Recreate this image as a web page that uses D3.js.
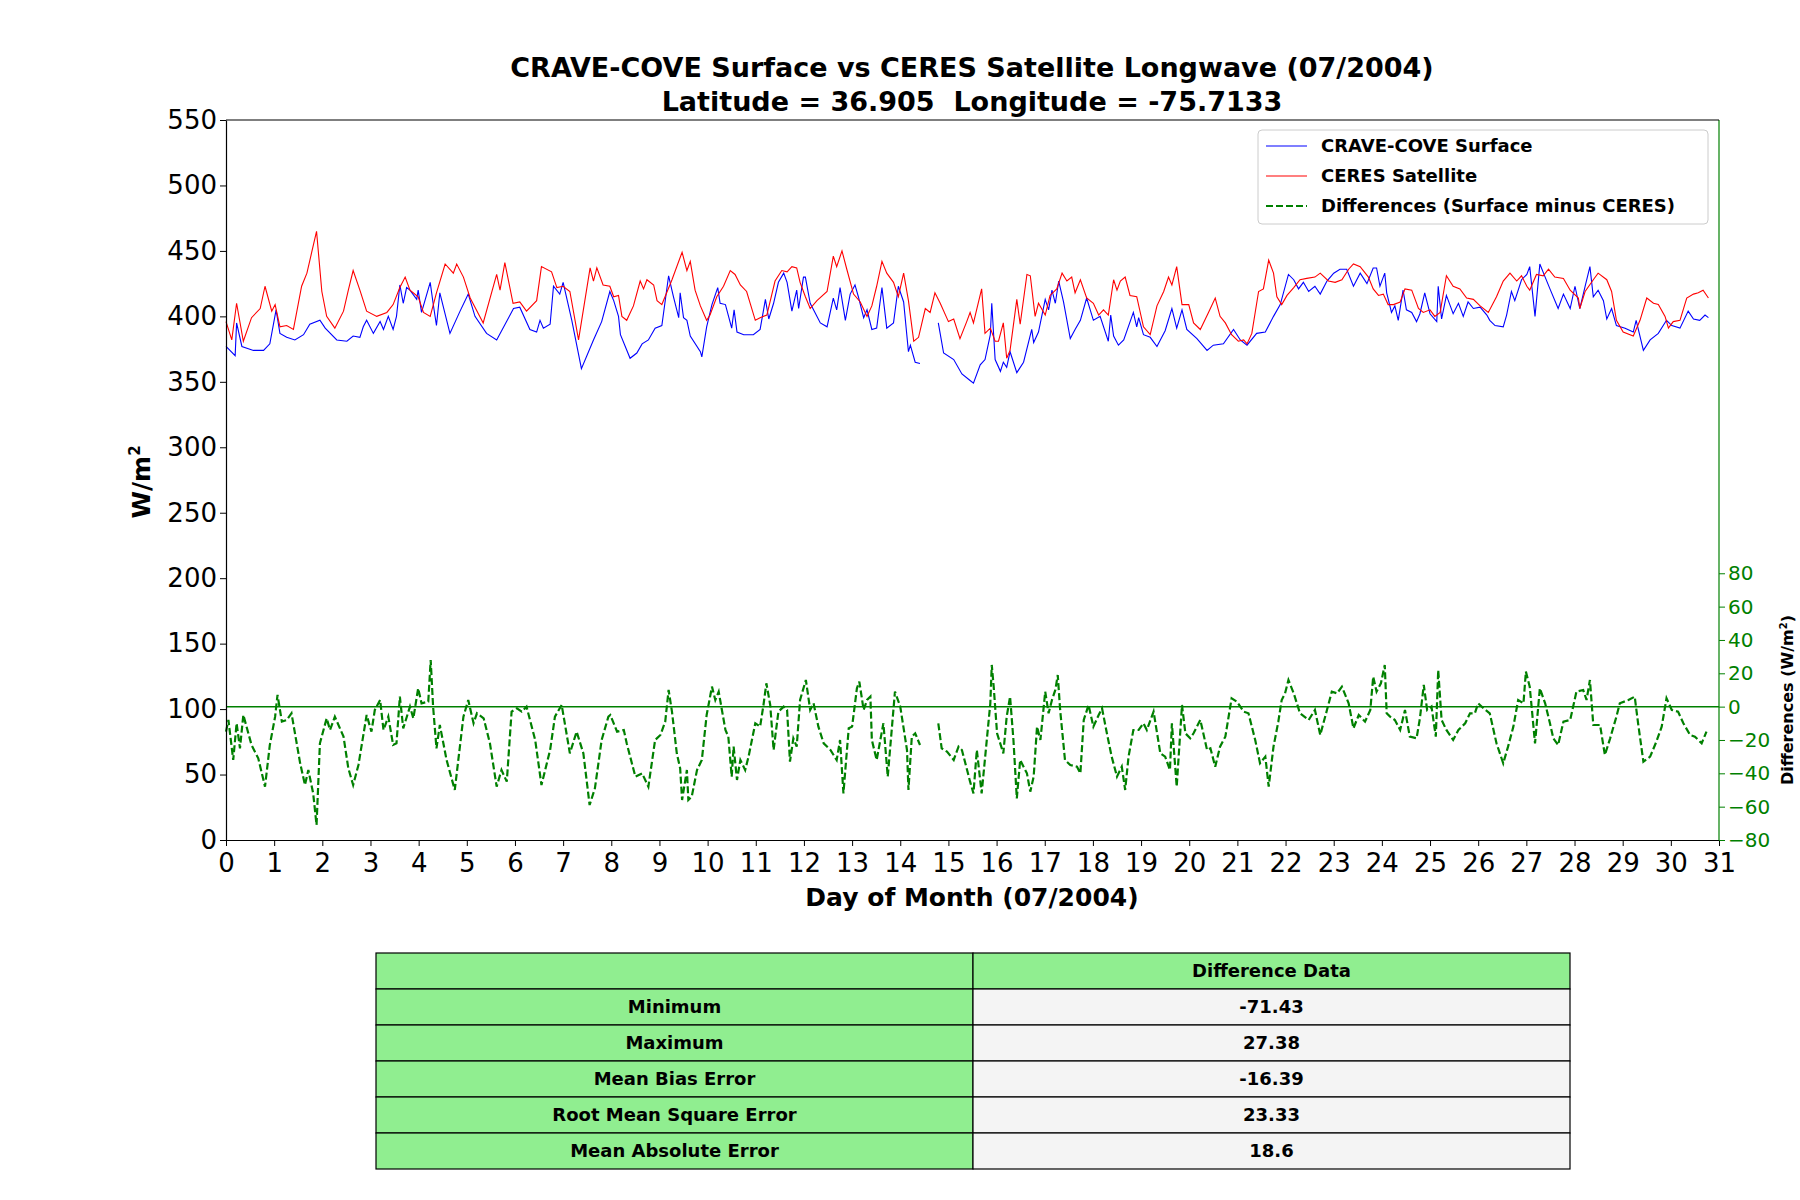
<!DOCTYPE html>
<html><head><meta charset="utf-8">
<script src="https://cdn.jsdelivr.net/npm/d3@7"></script>
<style>body{margin:0;background:#fff}text{font-family:"DejaVu Sans",sans-serif}</style>
</head><body><svg id="c" width="1800" height="1200"></svg>
<script>
const surfDays=[0.00,0.19,0.22,0.33,0.57,0.78,0.91,1.04,1.12,1.26,1.43,1.61,1.74,1.95,2.06,2.30,2.51,2.64,2.78,2.85,2.92,3.06,3.20,3.27,3.37,3.47,3.54,3.61,3.68,3.75,3.82,3.96,3.99,4.06,4.24,4.30,4.37,4.44,4.65,4.86,5.03,5.17,5.41,5.62,5.97,6.10,6.31,6.45,6.52,6.59,6.73,6.80,6.93,7.00,7.18,7.38,7.63,7.80,7.97,8.05,8.15,8.19,8.39,8.53,8.64,8.77,8.91,9.05,9.19,9.29,9.40,9.43,9.50,9.57,9.64,9.85,9.88,9.98,10.09,10.21,10.26,10.37,10.50,10.55,10.61,10.75,10.95,11.09,11.20,11.27,11.37,11.47,11.58,11.65,11.75,11.85,11.89,11.99,12.03,12.13,12.34,12.48,12.61,12.68,12.75,12.86,12.96,13.06,13.13,13.24,13.31,13.41,13.51,13.62,13.72,13.86,13.96,14.07,14.17,14.21,14.31,14.41,14.6,14.79,14.90,15.11,15.28,15.45,15.52,15.66,15.76,15.87,15.90,15.97,16.08,16.14,16.21,16.28,16.42,16.56,16.73,16.77,16.87,17.01,17.08,17.15,17.22,17.29,17.39,17.53,17.63,17.74,17.87,18.01,18.15,18.32,18.37,18.43,18.53,18.64,18.84,18.91,18.95,19.05,19.19,19.33,19.50,19.64,19.74,19.85,19.95,20.16,20.37,20.50,20.71,20.92,21.06,21.20,21.40,21.58,21.75,21.89,22.06,22.17,22.27,22.37,22.48,22.61,22.72,22.86,23.00,23.13,23.27,23.41,23.55,23.69,23.82,23.89,23.96,24.06,24.10,24.20,24.27,24.34,24.44,24.51,24.62,24.72,24.79,24.89,25.00,25.14,25.17,25.24,25.34,25.48,25.59,25.69,25.79,25.90,26.04,26.18,26.24,26.35,26.52,26.59,26.69,26.76,26.90,27.01,27.07,27.18,27.28,27.39,27.49,27.66,27.77,27.91,28.01,28.11,28.22,28.32,28.39,28.49,28.60,28.67,28.77,28.87,29.05,29.22,29.28,29.43,29.57,29.74,29.91,30.02,30.19,30.36,30.47,30.60,30.71,30.78];
const surfVals=[377,370,395,377,374,374,379,405,387,384,382,386,394,397,391,382,381,385,384,392,397,387,396,390,400,390,400,424,410,422,420,413,420,403,426,410,393,418,387,404,417,400,387,382,406,407,390,388,397,391,394,423,417,426,397,360,382,396,419,412,400,386,368,372,379,382,391,393,431,415,399,418,399,397,385,373,369,392,409,422,410,409,391,405,388,386,386,390,413,398,410,426,433,426,404,420,406,430,430,410,395,392,414,405,422,397,417,424,415,399,405,390,391,422,391,395,423,411,373,378,365,364,null,395,372,367,356,351,349,363,367,386,410,367,358,365,361,373,357,365,390,380,388,413,405,420,410,427,411,383,390,397,414,397,400,381,401,385,378,382,403,392,399,386,384,377,389,406,391,405,390,383,374,378,379,390,382,378,387,388,400,409,432,428,421,426,419,423,417,427,433,436,436,423,433,425,437,437,423,433,418,403,408,397,420,405,403,396,402,418,402,396,423,398,416,402,410,400,411,406,407,401,397,393,392,401,419,412,428,432,438,400,440,430,421,406,417,406,423,406,423,438,415,420,412,398,406,393,391,388,397,374,382,387,397,393,391,404,398,397,401,399];
const ceresDays=[0.00,0.12,0.22,0.36,0.53,0.71,0.81,0.95,1.02,1.12,1.26,1.40,1.57,1.68,1.78,1.88,1.99,2.09,2.26,2.44,2.54,2.64,2.78,2.92,3.13,3.34,3.47,3.61,3.72,3.82,3.99,4.10,4.24,4.37,4.55,4.72,4.79,4.93,5.07,5.34,5.62,5.69,5.79,5.96,6.10,6.24,6.45,6.55,6.76,6.87,7.00,7.14,7.32,7.56,7.63,7.70,7.83,7.97,8.05,8.15,8.22,8.32,8.46,8.60,8.67,8.74,8.88,8.95,9.05,9.15,9.26,9.47,9.57,9.64,9.74,9.85,9.98,10.05,10.19,10.33,10.47,10.57,10.68,10.81,10.99,11.09,11.23,11.40,11.54,11.65,11.75,11.85,11.92,12.03,12.13,12.27,12.48,12.61,12.68,12.79,12.89,13.03,13.17,13.31,13.41,13.51,13.62,13.72,13.86,13.96,14.07,14.17,14.28,14.38,14.52,14.62,14.72,14.83,15.00,15.11,15.24,15.38,15.45,15.52,15.69,15.76,15.87,15.97,16.04,16.14,16.21,16.28,16.42,16.49,16.63,16.70,16.80,16.87,17.01,17.11,17.25,17.36,17.46,17.56,17.63,17.74,17.87,18.01,18.12,18.22,18.32,18.43,18.50,18.57,18.67,18.77,18.91,19.05,19.19,19.33,19.47,19.57,19.64,19.74,19.85,19.99,20.09,20.23,20.40,20.54,20.64,20.75,20.88,21.02,21.13,21.20,21.30,21.44,21.54,21.65,21.75,21.82,21.92,22.03,22.17,22.30,22.44,22.61,22.72,22.89,23.03,23.17,23.31,23.41,23.55,23.72,23.82,23.93,24.03,24.13,24.24,24.38,24.48,24.62,24.76,24.86,25.00,25.10,25.21,25.34,25.48,25.62,25.76,25.90,26.04,26.21,26.38,26.52,26.66,26.80,26.90,27.01,27.07,27.21,27.35,27.46,27.59,27.77,27.91,28.08,28.11,28.22,28.39,28.49,28.67,28.77,28.87,29.01,29.22,29.36,29.50,29.64,29.74,29.88,29.95,30.05,30.19,30.33,30.47,30.57,30.67,30.78];
const ceresVals=[396,382,410,381,399,406,423,404,409,392,393,390,423,433,449,465,419,400,391,404,420,435,420,404,400,403,409,422,430,420,415,403,400,418,440,433,440,430,414,395,432,420,441,410,411,404,412,438,434,422,423,419,382,437,427,437,424,423,415,416,400,397,408,427,421,428,424,412,409,418,428,449,435,442,420,408,397,401,415,423,435,432,424,419,397,399,401,427,435,434,438,437,426,415,406,412,419,446,438,450,436,417,411,400,408,423,442,433,426,415,433,412,381,384,406,403,418,410,396,398,383,396,403,395,421,387,391,381,381,395,368,374,413,394,432,431,400,410,401,416,421,433,427,430,418,428,414,410,401,405,401,428,420,427,430,416,415,392,386,408,419,430,424,438,409,409,395,390,403,414,400,395,386,381,382,379,387,419,421,443,433,415,409,416,422,428,429,430,433,427,426,428,436,440,438,430,421,416,417,409,409,411,421,420,406,403,405,400,403,431,423,421,414,413,408,403,415,427,433,427,431,423,420,432,431,436,430,429,420,414,406,419,428,433,428,419,397,388,385,397,414,410,409,400,391,396,397,414,417,418,420,414];
const diffDays=[0.00,0.05,0.15,0.22,0.29,0.36,0.53,0.67,0.81,0.91,1.02,1.07,1.16,1.26,1.36,1.54,1.64,1.71,1.81,1.88,1.95,2.09,2.16,2.26,2.44,2.54,2.64,2.75,2.92,3.02,3.09,3.20,3.27,3.37,3.47,3.54,3.61,3.68,3.82,3.89,3.99,4.06,4.20,4.25,4.30,4.37,4.44,4.58,4.75,4.93,5.03,5.14,5.21,5.35,5.48,5.62,5.72,5.83,5.93,6.04,6.14,6.24,6.42,6.55,6.73,6.83,6.97,7.14,7.28,7.42,7.55,7.66,7.80,7.94,7.98,8.12,8.26,8.32,8.50,8.64,8.77,8.91,9.02,9.12,9.19,9.26,9.36,9.43,9.47,9.57,9.60,9.67,9.78,9.88,9.98,10.09,10.16,10.23,10.37,10.43,10.50,10.54,10.61,10.68,10.78,10.85,10.99,11.09,11.16,11.22,11.30,11.37,11.47,11.58,11.65,11.71,11.78,11.85,11.92,12.04,12.13,12.20,12.30,12.41,12.55,12.68,12.75,12.82,12.93,13.00,13.10,13.15,13.24,13.31,13.38,13.41,13.51,13.65,13.74,13.89,14.00,14.14,14.17,14.24,14.31,14.41,14.6,14.79,14.86,14.97,15.11,15.21,15.28,15.45,15.52,15.59,15.69,15.80,15.87,15.90,15.94,16.01,16.14,16.21,16.28,16.35,16.42,16.49,16.56,16.63,16.70,16.77,16.84,16.91,17.01,17.08,17.15,17.22,17.27,17.32,17.42,17.53,17.67,17.74,17.81,17.91,18.01,18.12,18.19,18.29,18.39,18.50,18.60,18.67,18.74,18.84,18.95,19.05,19.12,19.26,19.40,19.50,19.60,19.64,19.74,19.85,19.92,20.02,20.09,20.23,20.37,20.44,20.54,20.64,20.75,20.88,20.99,21.13,21.23,21.37,21.47,21.58,21.65,21.75,21.85,21.92,21.99,22.06,22.17,22.30,22.48,22.61,22.72,22.86,22.96,23.07,23.17,23.31,23.41,23.52,23.65,23.76,23.82,23.89,23.98,24.06,24.10,24.17,24.27,24.38,24.48,24.58,24.72,24.79,24.87,24.94,25.03,25.12,25.17,25.24,25.34,25.48,25.59,25.73,25.83,25.93,26.00,26.11,26.24,26.38,26.52,26.62,26.73,26.83,26.94,26.99,27.07,27.18,27.28,27.39,27.49,27.56,27.66,27.77,27.91,28.04,28.18,28.25,28.32,28.39,28.53,28.63,28.74,28.87,28.94,29.12,29.25,29.32,29.43,29.57,29.70,29.81,29.91,30.02,30.15,30.26,30.40,30.50,30.64,30.74];
const diffVals=[-15,-8,-32,-10,-25,-5,-23,-31,-48,-23,-6,7,-9,-8,-4,-34,-47,-38,-52,-71,-22,-7,-14,-6,-18,-37,-47,-35,-5,-15,-2,4,-14,-6,-23,-22,6,-13,0,-7,11,2,3,28,0,-25,-11,-32,-50,-6,4,-10,-4,-7,-22,-48,-38,-45,-3,-1,-3,0,-20,-47,-26,-6,1,-28,-15,-28,-59,-49,-20,-6,-5,-15,-14,-22,-42,-40,-48,-20,-17,-9,10,-3,-28,-37,-56,-38,-56,-54,-38,-32,-5,12,4,9,-14,-18,-42,-24,-44,-32,-38,-30,-10,-12,1,14,1,-26,-3,0,-2,-33,-19,-24,4,16,-2,2,-12,-22,-26,-32,-20,-52,-13,-12,11,15,-2,4,6,-20,-32,-10,-42,9,0,-26,-50,-18,-16,-23,null,-10,-25,-27,-32,-24,-26,-45,-52,-26,-52,-19,2,25,12,-16,-28,-6,6,-20,-55,-32,-36,-40,-51,-42,-12,-20,9,-4,4,10,19,-2,-32,-35,-36,-40,-8,1,-12,-5,-1,-16,-30,-42,-36,-50,-30,-14,-14,-10,-14,-3,-28,-30,-38,-10,-48,1,-16,-19,-16,-8,-26,-25,-36,-24,-18,5,3,-3,-4,-20,-34,-30,-48,-24,-9,4,8,16,8,-4,-8,-2,-17,-2,9,8,12,2,-13,-5,-9,-2,18,9,14,25,-4,-6,-8,-14,-2,-18,-19,-7,13,-2,0,-18,22,-8,-14,-20,-14,-10,-4,-4,2,-1,-4,-22,-34,-24,-12,4,2,21,12,-22,11,2,-10,-19,-23,-9,-8,9,10,4,16,-11,-11,-29,-19,-6,2,4,6,-10,-33,-30,-21,-12,5,-2,-3,-10,-17,-18,-22,-15];
const leftTicks=[0,50,100,150,200,250,300,350,400,450,500,550];
const rightTicks=[-80,-60,-40,-20,0,20,40,60,80];
const dayTicks=d3.range(0,32);
const legendLabels=["CRAVE-COVE Surface","CERES Satellite","Differences (Surface minus CERES)"];
const tableRows=["Minimum","Maximum","Mean Bias Error","Root Mean Square Error","Mean Absolute Error"];
const tableVals=["-71.43","27.38","-16.39","23.33","18.6"];

const svg=d3.select("#c");
const L=226,R=1719,T=120,B=840;
const x=d3.scaleLinear().domain([0,31]).range([L,R]);
const y=d3.scaleLinear().domain([0,550]).range([B,T]);
const pxPerUnit=1.667;
const y2=d3.scaleLinear().domain([-80,-80+(B-T)/pxPerUnit]).range([B,T]);
const green="#008000";

function series(days,vals){return days.map((d,i)=>({d,v:vals[i]}));}
function line(sc){return d3.line().defined(p=>p.v!=null).x(p=>x(p.d)).y(p=>sc(p.v));}

// zero line
svg.append("line").attr("x1",L).attr("x2",R).attr("y1",y2(0)).attr("y2",y2(0)).attr("stroke",green).attr("stroke-width",1.5);
svg.append("path").datum(series(surfDays,surfVals)).attr("d",line(y)).attr("fill","none").attr("stroke","#0000ff").attr("stroke-width",1.1);
svg.append("path").datum(series(ceresDays,ceresVals)).attr("d",line(y)).attr("fill","none").attr("stroke","#ff0000").attr("stroke-width",1.1);
svg.append("path").datum(series(diffDays,diffVals)).attr("d",line(y2)).attr("fill","none").attr("stroke",green).attr("stroke-width",2.2).attr("stroke-dasharray","7,3");

// axes
const ax=svg.append("g").attr("transform",`translate(0,${B})`).call(d3.axisBottom(x).tickValues(dayTicks).tickSize(6).tickSizeOuter(0));
ax.selectAll("text").attr("font-size",26).attr("fill","#000").attr("dy","0.9em");
const ay=svg.append("g").attr("transform",`translate(${L},0)`).call(d3.axisLeft(y).tickValues(leftTicks).tickSize(6).tickSizeOuter(0));
ay.selectAll("text").attr("font-size",26).attr("fill","#000");
const ar=svg.append("g").attr("transform",`translate(${R},0)`).call(d3.axisRight(y2).tickValues(rightTicks).tickSize(6).tickSizeOuter(0).tickFormat(d=>d<0?"\u2212"+(-d):d));
ar.selectAll("text").attr("font-size",20).attr("fill",green);
ar.selectAll("line").attr("stroke",green);
ar.select(".domain").remove();
svg.append("line").attr("x1",R).attr("x2",R).attr("y1",T).attr("y2",B).attr("stroke",green).attr("stroke-width",1.2);
svg.append("line").attr("x1",L).attr("x2",R).attr("y1",T).attr("y2",T).attr("stroke","#000").attr("stroke-width",1.2);
[ax,ay].forEach(g=>g.select(".domain").attr("stroke-width",1.2));

// titles
svg.append("text").attr("x",972).attr("y",77).attr("text-anchor","middle").attr("font-size",27).attr("font-weight","bold").text("CRAVE-COVE Surface vs CERES Satellite Longwave (07/2004)");
svg.append("text").attr("x",972).attr("y",111).attr("text-anchor","middle").attr("font-size",27).attr("font-weight","bold").text("Latitude = 36.905  Longitude = -75.7133").attr("xml:space","preserve").style("white-space","pre");
svg.append("text").attr("x",972).attr("y",906).attr("text-anchor","middle").attr("font-size",25).attr("font-weight","bold").text("Day of Month (07/2004)");
const yl=svg.append("text").attr("transform","translate(150,482) rotate(-90)").attr("text-anchor","middle").attr("font-size",25).attr("font-weight","bold");
yl.append("tspan").text("W/m");yl.append("tspan").attr("font-size",15).attr("dy",-10).text("2");
const rl=svg.append("text").attr("transform","translate(1793,700) rotate(-90)").attr("text-anchor","middle").attr("font-size",16).attr("font-weight","bold");
rl.append("tspan").text("Differences (W/m");rl.append("tspan").attr("font-size",10).attr("dy",-6).text("2");rl.append("tspan").attr("dy",6).text(")");

// legend
const lg=svg.append("g");
lg.append("rect").attr("x",1258).attr("y",130).attr("width",450).attr("height",94).attr("rx",4).attr("fill","#fff").attr("stroke","#ccc");
const lc=["#0000ff","#ff0000",green];
legendLabels.forEach((t,i)=>{
  const yy=146+i*30;
  lg.append("line").attr("x1",1266).attr("x2",1307).attr("y1",yy).attr("y2",yy).attr("stroke",lc[i]).attr("stroke-width",i==2?2.2:1.2).attr("stroke-dasharray",i==2?"7,3":null);
  lg.append("text").attr("x",1321).attr("y",yy+6).attr("font-size",18).attr("font-weight","bold").text(t);
});

// table
const tx0=376,tx1=973,tx2=1570,ty0=953,rh=36;
const tg=svg.append("g");
const allRows=[["","Difference Data"]].concat(tableRows.map((r,i)=>[r,tableVals[i]]));
allRows.forEach((r,i)=>{
  const yy=ty0+i*rh;
  tg.append("rect").attr("x",tx0).attr("y",yy).attr("width",tx1-tx0).attr("height",rh).attr("fill","#90ee90").attr("stroke","#000").attr("stroke-width",1.2);
  tg.append("rect").attr("x",tx1).attr("y",yy).attr("width",tx2-tx1).attr("height",rh).attr("fill",i==0?"#90ee90":"#f4f4f4").attr("stroke","#000").attr("stroke-width",1.2);
  tg.append("text").attr("x",(tx0+tx1)/2).attr("y",yy+rh/2+6).attr("text-anchor","middle").attr("font-size",18).attr("font-weight","bold").text(r[0]);
  tg.append("text").attr("x",(tx1+tx2)/2).attr("y",yy+rh/2+6).attr("text-anchor","middle").attr("font-size",18).attr("font-weight","bold").text(r[1]);
});
</script></body></html>
